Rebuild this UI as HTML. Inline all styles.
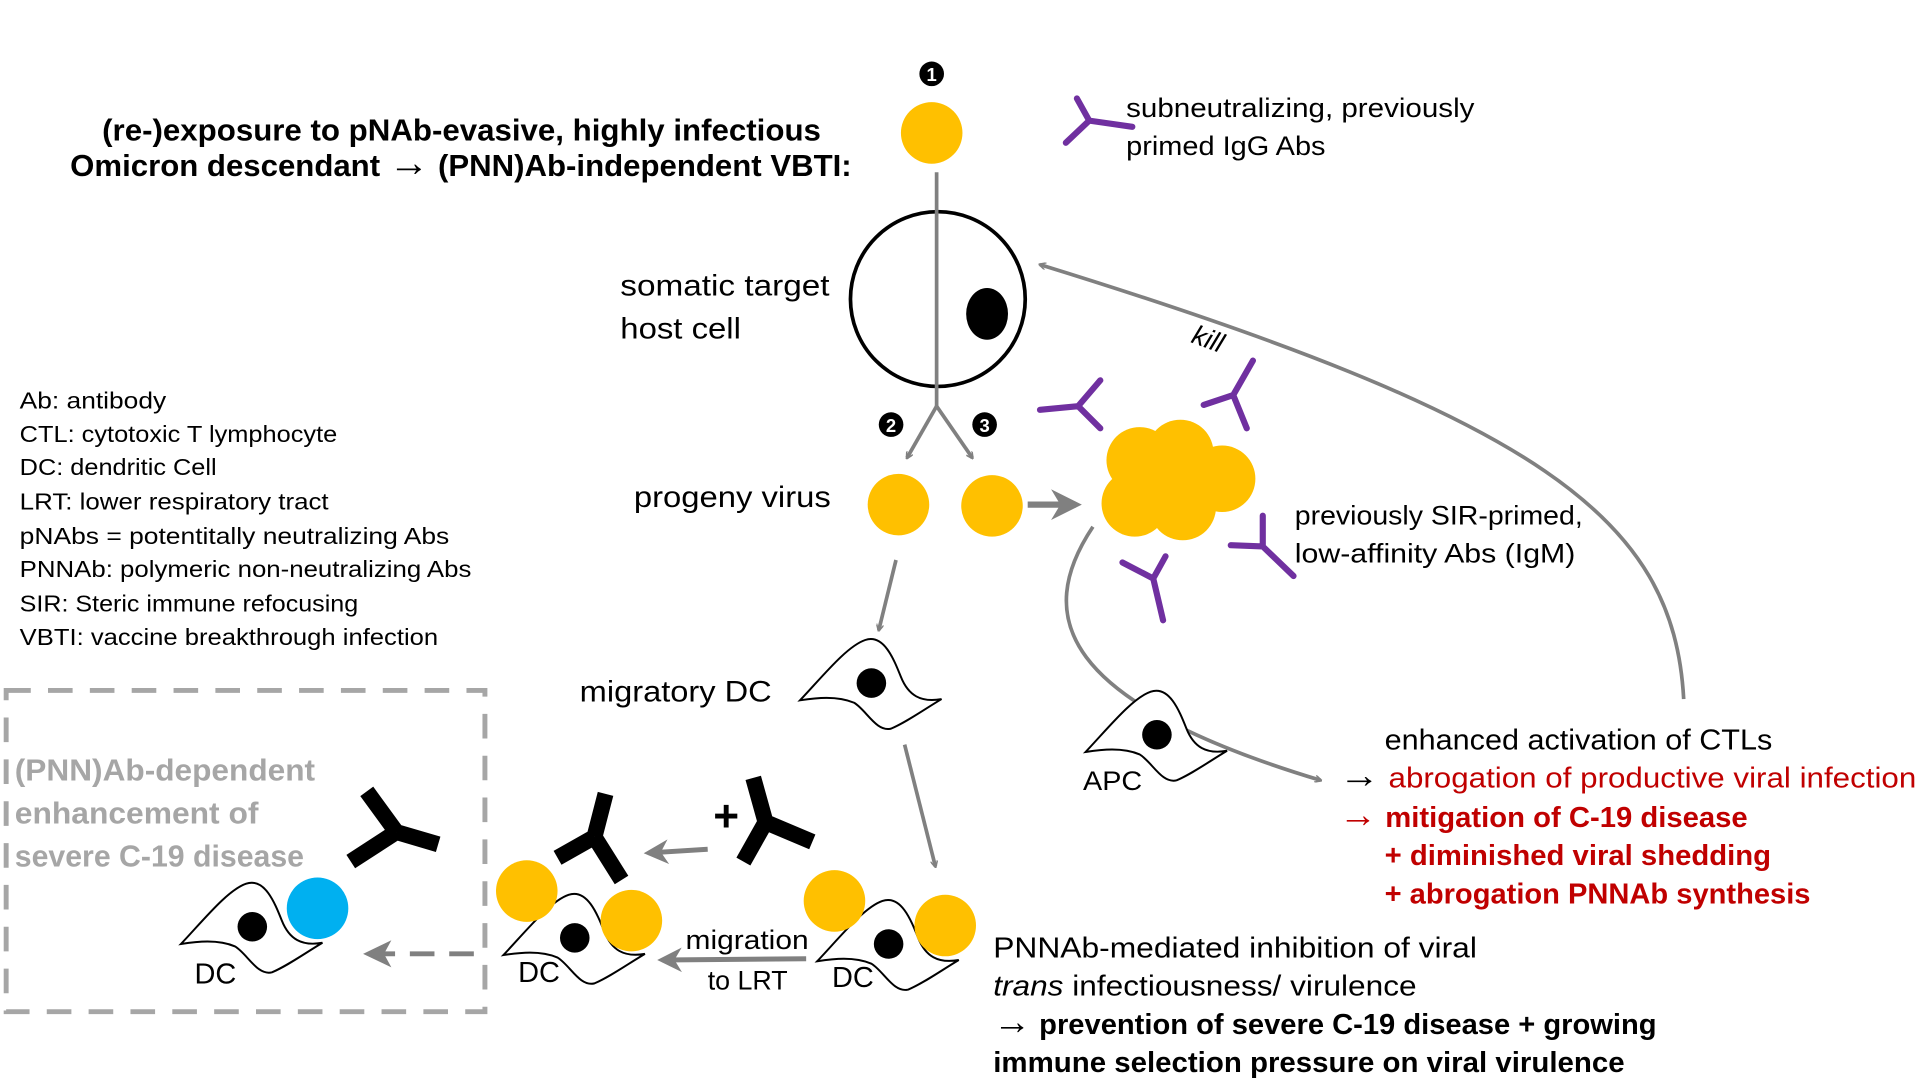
<!DOCTYPE html>
<html><head><meta charset="utf-8"><style>
html,body{margin:0;padding:0;background:#fff;width:1920px;height:1080px;overflow:hidden}
svg{display:block}
text{font-family:"Liberation Sans",sans-serif}
.ar{font-size:1.3em;font-weight:normal}
</style></head><body>
<svg width="1920" height="1080" viewBox="0 0 1560 877.5" preserveAspectRatio="none" xmlns="http://www.w3.org/2000/svg">
<defs>
<marker id="ah" viewBox="0 0 10 10" refX="8" refY="5" markerWidth="5" markerHeight="5" orient="auto" markerUnits="strokeWidth">
<path d="M0,0 L10,5 L0,10 L3,5 Z" fill="#808080"/></marker>
<marker id="ah2" viewBox="0 0 10 10" refX="8" refY="5" markerWidth="6" markerHeight="6" orient="auto" markerUnits="userSpaceOnUse">
<path d="M0,0 L10,5 L0,10" fill="none" stroke="#808080" stroke-width="2"/></marker>
<g id="dc">
<path d="M-58,14 C-40,-5 -20,-30 -5,-35 C10,-40 18,-20 24,-5 C30,10 40,16 57,13 C42,22 28,32 16,37 C4,40 -4,22 -14,16 C-28,10 -45,12 -58,14 Z" fill="#fff" stroke="#000" stroke-width="1.6"/>
<circle cx="0" cy="0" r="12" fill="#000"/>
</g>
</defs>

<text x="83" y="114" font-size="25" font-weight="bold" textLength="584" lengthAdjust="spacingAndGlyphs">(re-)exposure to pNAb-evasive, highly infectious</text>
<text x="57" y="143" font-size="25" font-weight="bold" textLength="635" lengthAdjust="spacingAndGlyphs">Omicron descendant <tspan class="ar">→</tspan> (PNN)Ab-independent VBTI:</text>

<g font-size="19">
<text x="16" y="332" textLength="119" lengthAdjust="spacingAndGlyphs">Ab: antibody</text>
<text x="16" y="359" textLength="258" lengthAdjust="spacingAndGlyphs">CTL: cytotoxic T lymphocyte</text>
<text x="16" y="386" textLength="160" lengthAdjust="spacingAndGlyphs">DC: dendritic Cell</text>
<text x="16" y="414" textLength="251" lengthAdjust="spacingAndGlyphs">LRT: lower respiratory tract</text>
<text x="16" y="442" textLength="349" lengthAdjust="spacingAndGlyphs">pNAbs  = potentitally neutralizing Abs</text>
<text x="16" y="469" textLength="367" lengthAdjust="spacingAndGlyphs">PNNAb: polymeric non-neutralizing Abs</text>
<text x="16" y="497" textLength="275" lengthAdjust="spacingAndGlyphs">SIR: Steric immune refocusing</text>
<text x="16" y="524" textLength="340" lengthAdjust="spacingAndGlyphs">VBTI: vaccine breakthrough infection</text>
</g>

<circle cx="757" cy="60" r="10" fill="#000"/><text x="757" y="66" font-size="15" font-weight="bold" fill="#fff" text-anchor="middle">1</text>
<circle cx="757" cy="108" r="25" fill="#ffc000"/>
<circle cx="762" cy="243" r="71" fill="none" stroke="#000" stroke-width="3"/>
<ellipse cx="802" cy="255" rx="17" ry="21" fill="#000"/>
<path d="M761,140 L761,330" stroke="#808080" stroke-width="3" fill="none"/>
<path d="M761,330 L737,372" stroke="#808080" stroke-width="3" fill="none" marker-end="url(#ah2)"/>
<path d="M761,330 L790,372" stroke="#808080" stroke-width="3" fill="none" marker-end="url(#ah2)"/>
<circle cx="724" cy="345" r="10" fill="#000"/><text x="724" y="351" font-size="15" font-weight="bold" fill="#fff" text-anchor="middle">2</text>
<circle cx="800" cy="345" r="10" fill="#000"/><text x="800" y="351" font-size="15" font-weight="bold" fill="#fff" text-anchor="middle">3</text>

<text x="504" y="240" font-size="24" textLength="170" lengthAdjust="spacingAndGlyphs">somatic target</text>
<text x="504" y="275" font-size="24" textLength="98" lengthAdjust="spacingAndGlyphs">host cell</text>
<text x="515" y="412" font-size="24" textLength="160" lengthAdjust="spacingAndGlyphs">progeny virus</text>

<g stroke="#7030a0" stroke-width="5" fill="none" stroke-linecap="round">
<path d="M920,103 L885,98 M885,98 L875,80 M885,98 L866,116"/>
<path d="M845,333 L876,330 M876,330 L894,309 M876,330 L894,348"/>
<path d="M978,329 L1002,321 M1002,321 L1018,293 M1002,321 L1013,348"/>
<path d="M912,457 L937,470 M937,470 L947,452 M937,470 L945,504"/>
<path d="M1000,443 L1026,444 M1026,444 L1026,419 M1026,444 L1051,468"/>
</g>
<text x="915" y="95" font-size="22" textLength="283" lengthAdjust="spacingAndGlyphs">subneutralizing, previously</text>
<text x="915" y="126" font-size="22" textLength="162" lengthAdjust="spacingAndGlyphs">primed IgG Abs</text>

<circle cx="730" cy="410" r="25" fill="#ffc000"/>
<circle cx="806" cy="411" r="25" fill="#ffc000"/>
<path d="M835,410 L874,410" stroke="#808080" stroke-width="5" marker-end="url(#ah)"/>
<g fill="#ffc000">
<circle cx="926" cy="374" r="27"/><circle cx="959" cy="368" r="27"/><circle cx="993" cy="389" r="27"/><circle cx="922" cy="409" r="27"/><circle cx="961" cy="412" r="27"/>
</g>
<text x="1052" y="426" font-size="22" textLength="234" lengthAdjust="spacingAndGlyphs">previously SIR-primed,</text>
<text x="1052" y="457" font-size="22" textLength="228" lengthAdjust="spacingAndGlyphs">low-affinity Abs (IgM)</text>

<path d="M1368,568 C1360,420 1250,340 845,215" stroke="#808080" stroke-width="3" fill="none" marker-end="url(#ah2)"/>
<text x="0" y="0" font-size="22" font-style="italic" transform="translate(967,278) rotate(20)">kill</text>

<path d="M888,428 C840,500 860,570 1073,634" stroke="#808080" stroke-width="3" fill="none" marker-end="url(#ah2)"/>
<use href="#dc" transform="translate(940,597)"/>
<text x="880" y="642" font-size="22" textLength="48" lengthAdjust="spacingAndGlyphs">APC</text>

<text x="1125" y="609" font-size="23" textLength="315" lengthAdjust="spacingAndGlyphs">enhanced activation of CTLs</text>
<text x="1088" y="640" font-size="23" textLength="469" lengthAdjust="spacingAndGlyphs"><tspan fill="#000" class="ar">→</tspan><tspan fill="#c00000"> abrogation of productive viral infection</tspan></text>
<g fill="#c00000" font-size="23" font-weight="bold">
<text x="1088" y="672" textLength="332" lengthAdjust="spacingAndGlyphs"><tspan class="ar">→</tspan> mitigation of C-19 disease</text>
<text x="1125" y="703" textLength="314" lengthAdjust="spacingAndGlyphs">+ diminished viral shedding</text>
<text x="1125" y="734" textLength="346" lengthAdjust="spacingAndGlyphs">+ abrogation PNNAb synthesis</text>
</g>

<path d="M728,455 L714,512" stroke="#808080" stroke-width="3" fill="none" marker-end="url(#ah2)"/>
<use href="#dc" transform="translate(708,555)"/>
<text x="471" y="570" font-size="24" textLength="156" lengthAdjust="spacingAndGlyphs">migratory DC</text>
<path d="M735,605 L760,704" stroke="#808080" stroke-width="3" fill="none" marker-end="url(#ah2)"/>

<use href="#dc" transform="translate(722,767)"/>
<circle cx="678" cy="732" r="25" fill="#ffc000"/>
<circle cx="768" cy="752" r="25" fill="#ffc000"/>
<text x="676" y="802" font-size="23" textLength="34" lengthAdjust="spacingAndGlyphs">DC</text>

<path d="M655,779 L538,780" stroke="#808080" stroke-width="4" fill="none" marker-end="url(#ah)"/>
<text x="557" y="771" font-size="22" textLength="100" lengthAdjust="spacingAndGlyphs">migration</text>
<text x="575" y="804" font-size="22" textLength="65" lengthAdjust="spacingAndGlyphs">to LRT</text>

<use href="#dc" transform="translate(467,762)"/>
<circle cx="428" cy="724" r="25" fill="#ffc000"/>
<circle cx="513" cy="748" r="25" fill="#ffc000"/>
<text x="421" y="798" font-size="23" textLength="34" lengthAdjust="spacingAndGlyphs">DC</text>
<g stroke="#000" stroke-width="13" fill="none">
<path d="M505,715 L483,680 M483,680 L453,697 M483,680 L492,645"/>
<path d="M604,700 L622,668 M622,668 L612,632 M622,668 L660,684"/>
</g>
<path d="M575,690 L527,693" stroke="#808080" stroke-width="4" fill="none" marker-end="url(#ah)"/>
<text x="590" y="675" font-size="36" font-weight="bold" text-anchor="middle">+</text>

<text x="807" y="778" font-size="23" textLength="393" lengthAdjust="spacingAndGlyphs">PNNAb-mediated inhibition of viral</text>
<text x="807" y="809" font-size="23" textLength="344" lengthAdjust="spacingAndGlyphs"><tspan font-style="italic">trans</tspan> infectiousness/ virulence</text>
<text x="807" y="840" font-size="23" font-weight="bold" textLength="539" lengthAdjust="spacingAndGlyphs"><tspan class="ar">→</tspan> prevention of severe C-19 disease + growing</text>
<text x="807" y="871" font-size="23" font-weight="bold" textLength="513" lengthAdjust="spacingAndGlyphs">immune selection pressure on viral virulence</text>

<rect x="5" y="561" width="389" height="261" fill="none" stroke="#a6a6a6" stroke-width="4" stroke-dasharray="20,14"/>
<g fill="#a6a6a6" font-size="25" font-weight="bold">
<text x="12" y="634" textLength="244" lengthAdjust="spacingAndGlyphs">(PNN)Ab-dependent</text>
<text x="12" y="669" textLength="198" lengthAdjust="spacingAndGlyphs">enhancement of</text>
<text x="12" y="704" textLength="235" lengthAdjust="spacingAndGlyphs">severe C-19 disease</text>
</g>
<use href="#dc" transform="translate(205,753)"/>
<circle cx="258" cy="738" r="25" fill="#00b0f0"/>
<text x="158" y="799" font-size="23" textLength="34" lengthAdjust="spacingAndGlyphs">DC</text>
<g stroke="#000" stroke-width="13" fill="none">
<path d="M285,700 L322,676 M322,676 L298,643 M322,676 L356,686"/>
</g>
<path d="M385,775 L300,775" stroke="#808080" stroke-width="4" stroke-dasharray="20,12" fill="none"/>
<path d="M295,775 L318,764 L312,775 L318,786 Z" fill="#808080"/>
</svg>
</body></html>
